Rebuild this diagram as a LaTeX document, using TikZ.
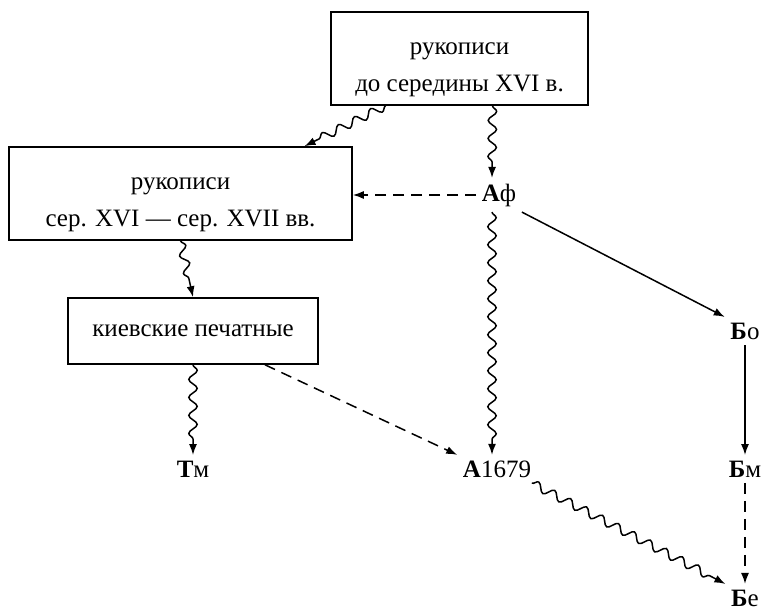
\documentclass[tikz,border=0pt]{standalone}
\usepackage{fontspec}
\setmainfont{Liberation Serif}
\usetikzlibrary{arrows.meta,decorations.pathmorphing}
\begin{document}
\begin{tikzpicture}[x=1pt, y=-1pt, line width=1.5pt,
  every node/.style={font=\fontsize{25}{37}\selectfont},
  box/.style={draw, line width=1.6pt, align=center, inner sep=0pt},
  ms/.style={inner sep=5pt},
  wavy/.style={-{Latex[length=11pt,width=8pt]}, decorate,
    decoration={snake, amplitude=4.2pt, segment length=18pt, post length=14pt}},
  dasharr/.style={-{Latex[length=11pt,width=8pt]}, dash pattern=on 11pt off 7pt},
  solid/.style={-{Latex[length=11pt,width=8pt]}}]
  \useasboundingbox (0,0) rectangle (764,612);
  % Rukopisi
  \node[box, minimum width=257pt, minimum height=93pt] (top) at (459.5,58.5)
    {\rule{0pt}{34pt}рукописи\\до середины XVI в.};
  \node[box, minimum width=343pt, minimum height=93pt] (mid) at (180.5,193.5)
    {\rule{0pt}{34pt}рукописи\\сер. XVI — сер. XVII вв.};
  \node[box, minimum width=250pt, minimum height=66pt] (kiev) at (193,331)
    {киевские печатные};
  % Spiski
  \node[ms] (Af) at (499,195) {\textbf{А}ф};
  \node[ms] (Bo) at (745,331) {\textbf{Б}о};
  \node[ms] (Tm) at (193,469) {\textbf{Т}м};
  \node[ms] (A1679) at (497,469) {\textbf{А}1679};
  \node[ms] (Bm) at (745,469) {\textbf{Б}м};
  \node[ms] (Be) at (745,598) {\textbf{Б}е};
  % Svyazi
  \draw[wavy] ([xshift=-74pt]top.south) -- ([xshift=124pt]mid.north);
  \draw[wavy] ([xshift=33pt]top.south) -- ([xshift=-7pt]Af.north);
  \draw[wavy] ([xshift=-7pt]Af.south) -- ([xshift=-5pt]A1679.north);
  \draw[dasharr] (Af.west) -- (mid.east |- Af.west);
  \draw[solid] (Af.south east) -- (Bo.north west);
  \draw[wavy] (mid.south) -- (kiev.north);
  \draw[wavy] (kiev.south) -- (Tm.north);
  \draw[dasharr] ([xshift=72pt]kiev.south) -- (A1679.north west);
  \draw[solid] (Bo.south) -- (Bm.north);
  \draw[dasharr] (Bm.south) -- (Be.north);
  \draw[wavy] ([xshift=-5pt]A1679.south east) -- (Be.north west);
\end{tikzpicture}
\end{document}
